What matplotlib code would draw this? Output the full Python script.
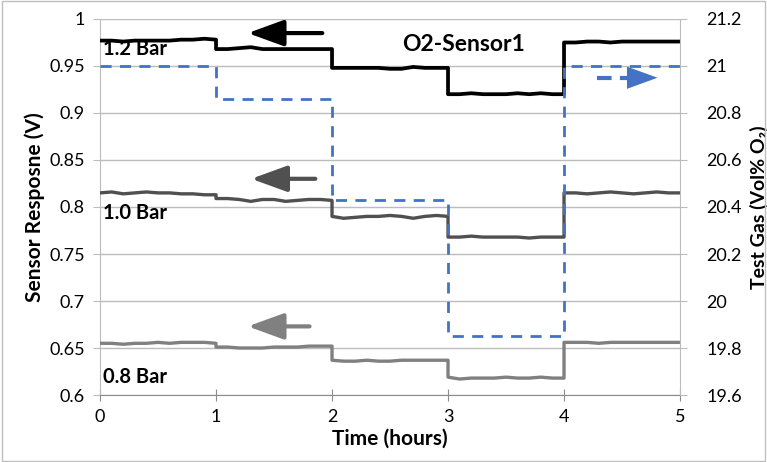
import numpy as np
import matplotlib.pyplot as plt
from matplotlib.patches import Rectangle

# ===== DATA =====
# each hour-long segment is sampled every 0.1 h (11 points incl. both ends)
seg_t = np.round(np.arange(11) * 0.1, 1)
t = np.concatenate([k + seg_t for k in range(5)])

bar12_segs = [
    [0.977, 0.977, 0.976, 0.977, 0.977, 0.977, 0.977, 0.978, 0.978, 0.979, 0.978],
    [0.968, 0.968, 0.969, 0.970, 0.968, 0.968, 0.968, 0.968, 0.968, 0.968, 0.968],
    [0.948, 0.948, 0.948, 0.948, 0.948, 0.947, 0.947, 0.949, 0.948, 0.948, 0.948],
    [0.920, 0.920, 0.921, 0.920, 0.920, 0.920, 0.921, 0.920, 0.921, 0.920, 0.920],
    [0.975, 0.975, 0.976, 0.976, 0.975, 0.976, 0.976, 0.976, 0.976, 0.976, 0.976],
]
bar10_segs = [
    [0.815, 0.816, 0.814, 0.815, 0.816, 0.815, 0.815, 0.814, 0.814, 0.813, 0.813],
    [0.809, 0.809, 0.808, 0.806, 0.808, 0.808, 0.806, 0.807, 0.808, 0.808, 0.807],
    [0.790, 0.788, 0.789, 0.790, 0.790, 0.791, 0.790, 0.788, 0.790, 0.791, 0.790],
    [0.768, 0.768, 0.769, 0.768, 0.768, 0.768, 0.768, 0.767, 0.768, 0.768, 0.768],
    [0.815, 0.815, 0.814, 0.815, 0.816, 0.815, 0.814, 0.815, 0.816, 0.815, 0.815],
]
bar08_segs = [
    [0.655, 0.655, 0.654, 0.655, 0.655, 0.656, 0.655, 0.656, 0.656, 0.656, 0.655],
    [0.651, 0.651, 0.650, 0.650, 0.650, 0.651, 0.651, 0.651, 0.652, 0.652, 0.652],
    [0.637, 0.636, 0.636, 0.637, 0.636, 0.636, 0.637, 0.637, 0.637, 0.637, 0.637],
    [0.619, 0.617, 0.618, 0.618, 0.618, 0.619, 0.618, 0.618, 0.619, 0.618, 0.618],
    [0.656, 0.656, 0.656, 0.655, 0.656, 0.656, 0.656, 0.656, 0.656, 0.656, 0.656],
]

gas_t = [0, 1, 2, 3, 4, 5]
gas_o2 = [21.0, 20.86, 20.43, 19.85, 21.0, 21.0]

xticks = [0, 1, 2, 3, 4, 5]
yticks_left = [0.6, 0.65, 0.7, 0.75, 0.8, 0.85, 0.9, 0.95, 1.0]
ylabels_left = ['0.6', '0.65', '0.7', '0.75', '0.8', '0.85', '0.9', '0.95', '1']
yticks_right = [19.6, 19.8, 20.0, 20.2, 20.4, 20.6, 20.8, 21.0, 21.2]
ylabels_right = ['19.6', '19.8', '20', '20.2', '20.4', '20.6', '20.8', '21', '21.2']

# ===== STYLE =====
plt.rcParams['font.family'] = ['Lato', 'DejaVu Sans']
blue = '#4472c4'
grid_c = '#bcbcbc'
axis_c = '#8c8c8c'

fig = plt.figure(figsize=(7.67, 4.62), dpi=100)
ax = fig.add_axes([0.1304, 0.145, 0.7562, 0.8139])
ax2 = ax.twinx()

ax.plot(t, np.concatenate(bar12_segs), color='black', lw=2.7, zorder=4)
ax.plot(t, np.concatenate(bar10_segs), color='#505050', lw=2.4, zorder=4)
ax.plot(t, np.concatenate(bar08_segs), color='#808080', lw=2.4, zorder=4)
ax2.plot(gas_t, gas_o2, color=blue, lw=2, ls=(0, (4, 3)), drawstyle='steps-post')

ax.set_xlim(0, 5)
ax.set_ylim(0.6, 1.0)
ax2.set_ylim(19.6, 21.2)
ax.set_xticks(xticks)
ax.set_xticklabels([str(v) for v in xticks], fontsize=13)
ax.set_yticks(yticks_left)
ax.set_yticklabels(ylabels_left, fontsize=13)
ax2.set_yticks(yticks_right)
ax2.set_yticklabels(ylabels_right, fontsize=13)

ax.grid(axis='y', color=grid_c, lw=1)
ax.set_axisbelow(True)
ax.spines['top'].set_visible(False)
ax.spines['right'].set_visible(False)
for s in ['top', 'left', 'bottom']:
    ax2.spines[s].set_visible(False)
ax2.spines['right'].set_color(grid_c)
ax.spines['left'].set_color(grid_c)
ax.spines['bottom'].set_color(axis_c)
ax.tick_params(axis='y', length=5, color=grid_c, pad=6)
ax2.tick_params(axis='y', length=5, color=grid_c, pad=14)
ax.tick_params(axis='x', direction='inout', length=8, color=axis_c, pad=6)

ax.set_xlabel('Time (hours)', fontsize=15, fontweight='bold', labelpad=3)
ax.set_ylabel('Sensor Resposne (V)', fontsize=15, fontweight='bold', labelpad=3)
ax2.set_ylabel('Test Gas (Vol% O\u2082)', fontsize=14, fontweight='bold', labelpad=6)

# labels
ax.text(0.03, 0.968, '1.2 Bar', fontsize=14.5, fontweight='bold', va='center')
ax.text(0.03, 0.794, '1.0 Bar', fontsize=14.5, fontweight='bold', va='center')
ax.text(0.03, 0.619, '0.8 Bar', fontsize=14.5, fontweight='bold', va='center')
ax.text(3.13, 0.973, 'O2-Sensor1', fontsize=16.5, fontweight='bold', ha='center', va='center')

# arrows
head = '-|>,head_width=0.4,head_length=1.1'
ax.annotate('', xy=(1.25, 0.985), xytext=(1.94, 0.985),
            arrowprops=dict(arrowstyle=head, mutation_scale=20, lw=3, color='black'))
ax.annotate('', xy=(1.28, 0.830), xytext=(1.88, 0.830),
            arrowprops=dict(arrowstyle=head, mutation_scale=20, lw=3, color='#505050'))
ax.annotate('', xy=(1.25, 0.673), xytext=(1.83, 0.673),
            arrowprops=dict(arrowstyle=head, mutation_scale=20, lw=3, color='#808080'))
ax2.plot([4.28, 4.64], [20.95, 20.95], color=blue, lw=3, ls=(0, (3.5, 2)))
ax2.annotate('', xy=(4.83, 20.95), xytext=(4.65, 20.95),
             arrowprops=dict(arrowstyle=head, mutation_scale=20, lw=0, color=blue))

# outer frame
fig.patches.append(Rectangle((0.002, 0.002), 0.996, 0.996, transform=fig.transFigure,
                             fill=False, edgecolor='#bfbfbf', lw=1))

fig.savefig('out.png', dpi=100)
